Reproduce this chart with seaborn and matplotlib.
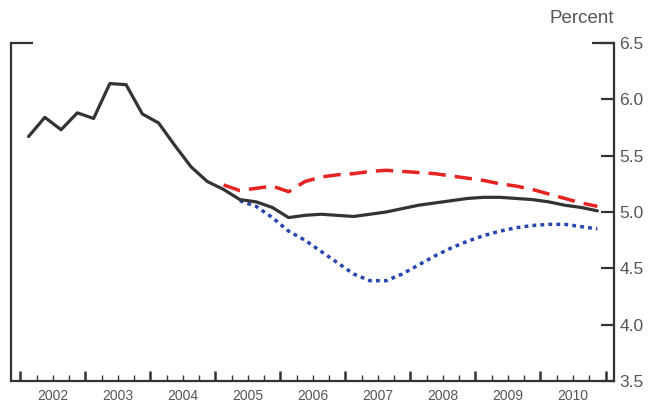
import numpy as np
import pandas as pd
import matplotlib
matplotlib.use("Agg")
import matplotlib.pyplot as plt
import seaborn as sns
from matplotlib.ticker import FixedLocator, FuncFormatter

# ── Data (quarterly, percent) ───────────────────────────
years = list(range(2002, 2011))
quarters = [1, 2, 3, 4]

actual = [5.67, 5.84, 5.73, 5.88,
          5.83, 6.14, 6.13, 5.87,
          5.79, 5.59, 5.40, 5.27,
          5.20, 5.11, 5.09, 5.04,
          4.95, 4.97, 4.98, 4.97,
          4.96, 4.98, 5.00, 5.03,
          5.06, 5.08, 5.10, 5.12,
          5.13, 5.13, 5.12, 5.11,
          5.09, 5.06, 5.04, 5.01]

# alternative paths begin in 2005
high_start = 2005
high_path = [5.24, 5.19, 5.21, 5.23,
             5.18, 5.27, 5.31, 5.33,
             5.34, 5.36, 5.37, 5.36,
             5.35, 5.34, 5.32, 5.30,
             5.28, 5.25, 5.23, 5.20,
             5.16, 5.12, 5.08, 5.05]

low_start = 2005.25
low_path = [5.10, 5.05, 4.95,
            4.83, 4.75, 4.65, 4.55,
            4.45, 4.39, 4.39, 4.45,
            4.53, 4.61, 4.68, 4.74,
            4.79, 4.83, 4.86, 4.88,
            4.89, 4.89, 4.87, 4.85]

y_ticks = [3.5, 4.0, 4.5, 5.0, 5.5, 6.0, 6.5]

# ── Build frames ───────────────────────────────────────
t_all = [y + (q - 0.5) / 4 for y in years for q in quarters]
df_act = pd.DataFrame({"t": t_all, "v": actual})
df_high = pd.DataFrame({"t": [t for t in t_all if t >= high_start], "v": high_path})
df_low = pd.DataFrame({"t": [t for t in t_all if t >= low_start], "v": low_path})

# ── Plot ────────────────────────────────────────────────
sns.set_style("white")
plt.rcParams["font.family"] = ["Liberation Sans", "DejaVu Sans"]

fig = plt.figure(figsize=(6.53, 4.04), dpi=100)
ax = fig.add_axes([0.0168, 0.057, 0.9234, 0.8366])

sns.lineplot(data=df_high, x="t", y="v", ax=ax, color="#e62222",
             linewidth=2.5)
ax.lines[-1].set_dashes([5, 2.6])
sns.lineplot(data=df_low, x="t", y="v", ax=ax, color="#2846b0",
             linewidth=2.5)
ax.lines[-1].set_dashes([1.1, 1.2])
sns.lineplot(data=df_act, x="t", y="v", ax=ax, color="#333333",
             linewidth=2.3)

ax.set_xlim(2001.854, 2011.13)
ax.set_ylim(3.5, 6.5)
ax.set_xlabel("")
ax.set_ylabel("")

# spines
for side in ["left", "right", "bottom"]:
    ax.spines[side].set_color("#333333")
    ax.spines[side].set_linewidth(1.6)
ax.spines["top"].set_visible(False)

# y axis: labels on right, inward ticks, longer tick at top on both sides
ax.yaxis.set_major_locator(FixedLocator(y_ticks))
ax.yaxis.set_minor_locator(FixedLocator([6.5]))
ax.yaxis.remove_overlapping_locs = False
ax.yaxis.set_major_formatter(FuncFormatter(lambda v, p: f"{v:.1f}"))
ax.tick_params(axis="y", which="major", left=False, right=True,
               labelleft=False, labelright=True, direction="in",
               length=9.5, width=1.6, color="#333333",
               labelsize=12.5, labelcolor="#555555", pad=4)
ax.tick_params(axis="y", which="minor", left=True, right=True,
               direction="in", length=15.5, width=1.6, color="#333333")

# x axis: year ticks, quarter minor ticks, labels mid-year
ax.xaxis.set_major_locator(FixedLocator(years + [2011]))
ax.xaxis.set_minor_locator(FixedLocator(
    [y + f for y in years for f in (0.25, 0.5, 0.75)]))
ax.xaxis.set_major_formatter(FuncFormatter(lambda v, p: ""))
ax.xaxis.set_minor_formatter(FuncFormatter(
    lambda v, p: str(int(v)) if abs(v % 1 - 0.5) < 1e-6 else ""))
ax.tick_params(axis="x", which="major", bottom=True, direction="in",
               length=7.5, width=1.8, color="#333333")
ax.tick_params(axis="x", which="minor", bottom=True, direction="in",
               length=4.5, width=1.0, color="#333333",
               labelsize=10, labelcolor="#555555", pad=6)

fig.text(0.94, 0.932, "Percent", ha="right", va="bottom",
         fontsize=13.5, color="#555555")

fig.savefig("out.png", dpi=100)
